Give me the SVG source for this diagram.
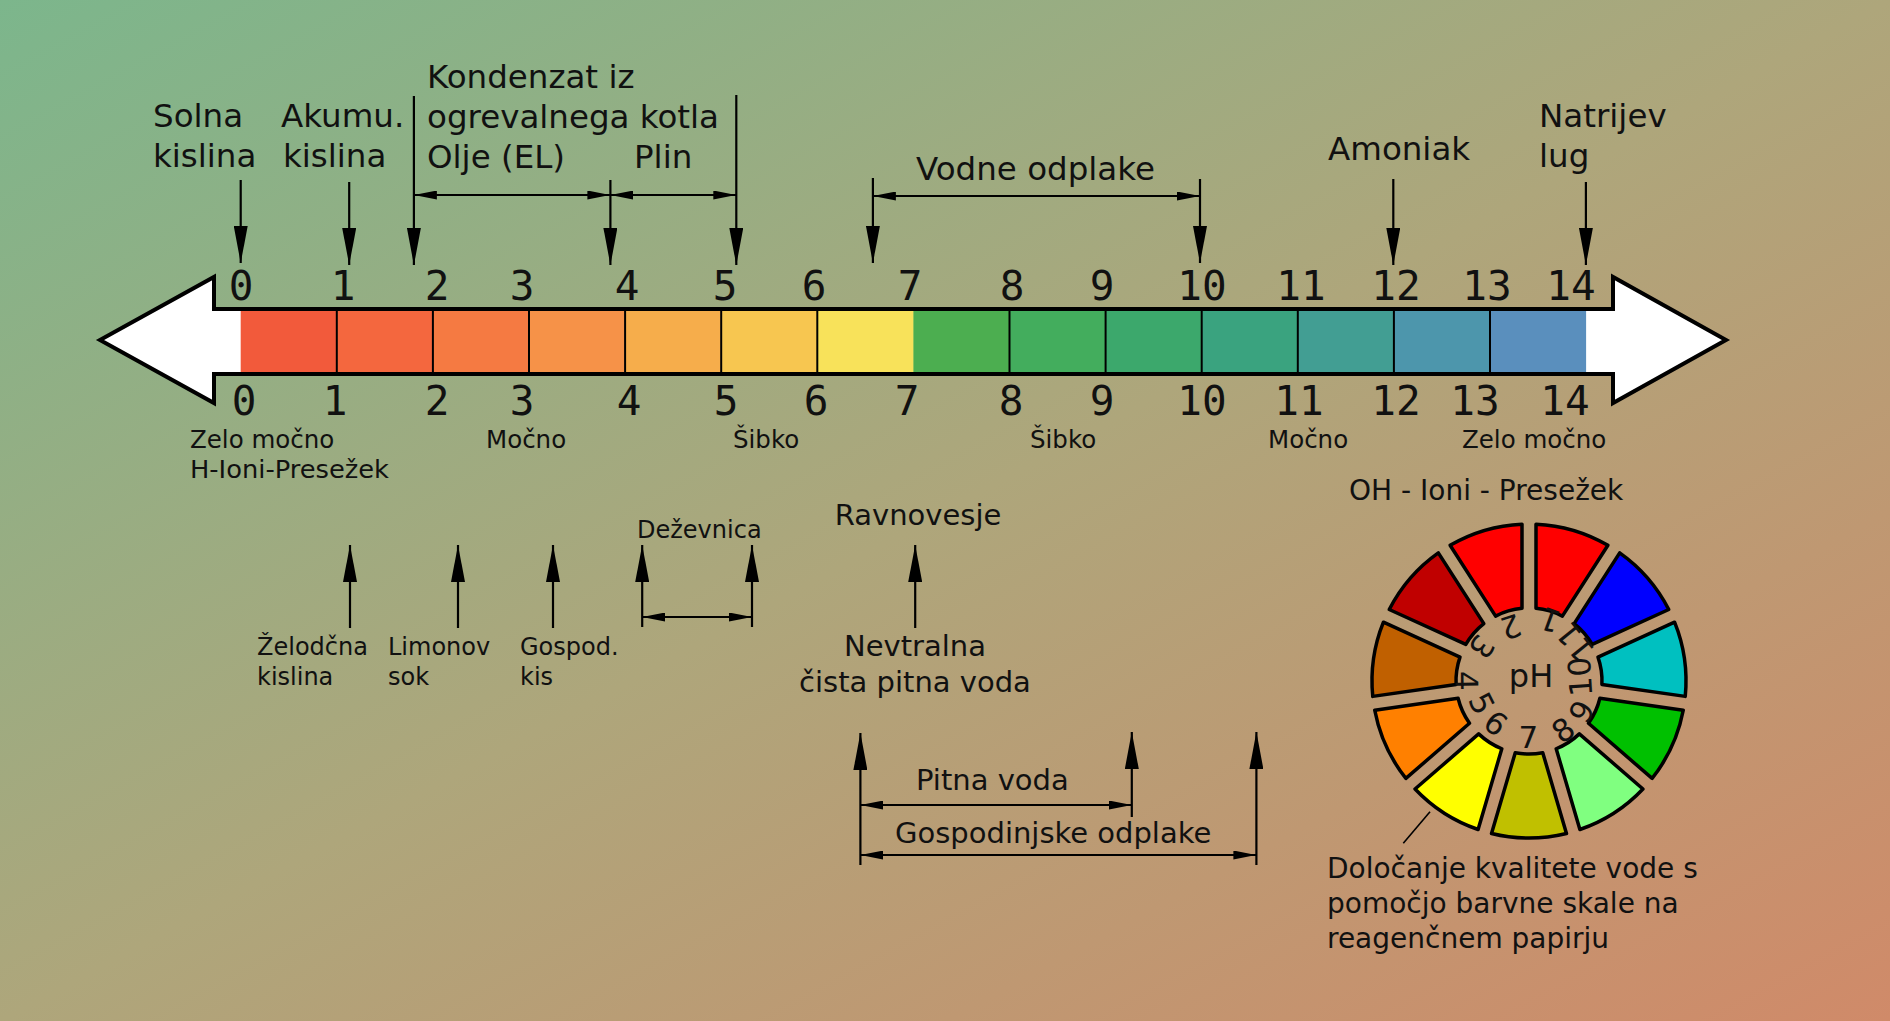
<svg xmlns="http://www.w3.org/2000/svg" width="1890" height="1021" viewBox="0 0 1890 1021">
<defs>
<linearGradient id="bg" x1="0" y1="0" x2="1" y2="1">
<stop offset="0" stop-color="#7cb68c"/>
<stop offset="0.5" stop-color="#aea67b"/>
<stop offset="1" stop-color="#d08a69"/>
</linearGradient>
<marker id="ah" viewBox="0 0 37 14" refX="37" refY="7" markerWidth="37" markerHeight="14" markerUnits="userSpaceOnUse" orient="auto-start-reverse"><path d="M0,0 L37,7 L0,14 Z" fill="#000"/></marker>
<marker id="as" viewBox="0 0 23 9" refX="23" refY="4.5" markerWidth="23" markerHeight="9" markerUnits="userSpaceOnUse" orient="auto-start-reverse"><path d="M0,0 L23,4.5 L0,9 Z" fill="#000"/></marker>
<style>
.t{font-family:"DejaVu Sans","Liberation Sans",sans-serif;fill:#111}
.l{font-size:32.5px}
.s{font-size:24.5px}
.m{font-size:29px}
.n{font-family:"DejaVu Sans Mono","Liberation Mono",monospace;font-size:41px;text-anchor:middle;fill:#111}
.v{stroke:#000;stroke-width:2.2;fill:none;marker-end:url(#ah)}
.h{stroke:#000;stroke-width:2.2;fill:none;marker-start:url(#as);marker-end:url(#as)}
.seg{stroke:#000;stroke-width:3.5;stroke-linejoin:round}
.div{stroke:#000;stroke-width:2}
.rd{font-family:"DejaVu Sans","Liberation Sans",sans-serif;font-size:31px;text-anchor:middle;fill:#111}
</style>
</defs>
<rect width="1890" height="1021" fill="url(#bg)"/>

<g id="scale">
<path d="M214,309 L214,277 L100,340 L214,403 L214,374 L1613,374 L1613,403 L1726,340 L1613,277 L1613,309 Z" fill="#fff" stroke="#000" stroke-width="4" stroke-linejoin="miter"/>
<rect x="240.7" y="311" width="96.6" height="61" fill="#f25a3b"/>
<rect x="336.8" y="311" width="96.6" height="61" fill="#f4673e"/>
<rect x="432.9" y="311" width="96.6" height="61" fill="#f57a42"/>
<rect x="529.0" y="311" width="96.6" height="61" fill="#f69248"/>
<rect x="625.1" y="311" width="96.6" height="61" fill="#f6ad4b"/>
<rect x="721.2" y="311" width="96.6" height="61" fill="#f7c650"/>
<rect x="817.3" y="311" width="96.6" height="61" fill="#f8e25a"/>
<rect x="913.4" y="311" width="96.6" height="61" fill="#4cae50"/>
<rect x="1009.5" y="311" width="96.6" height="61" fill="#43ad5d"/>
<rect x="1105.6" y="311" width="96.6" height="61" fill="#3ca86c"/>
<rect x="1201.7" y="311" width="96.6" height="61" fill="#3aa37f"/>
<rect x="1297.8" y="311" width="96.6" height="61" fill="#429e93"/>
<rect x="1393.9" y="311" width="96.6" height="61" fill="#4d96ac"/>
<rect x="1490.0" y="311" width="96.1" height="61" fill="#5a8fbd"/>
<g class="div">
<line x1="336.8" y1="311" x2="336.8" y2="372"/>
<line x1="432.9" y1="311" x2="432.9" y2="372"/>
<line x1="529.0" y1="311" x2="529.0" y2="372"/>
<line x1="625.1" y1="311" x2="625.1" y2="372"/>
<line x1="721.2" y1="311" x2="721.2" y2="372"/>
<line x1="817.3" y1="311" x2="817.3" y2="372"/>
<line x1="1009.5" y1="311" x2="1009.5" y2="372"/>
<line x1="1105.6" y1="311" x2="1105.6" y2="372"/>
<line x1="1201.7" y1="311" x2="1201.7" y2="372"/>
<line x1="1297.8" y1="311" x2="1297.8" y2="372"/>
<line x1="1393.9" y1="311" x2="1393.9" y2="372"/>
<line x1="1490.0" y1="311" x2="1490.0" y2="372"/>
</g>
</g>

<g id="numbers-top">
<text class="n" x="241" y="300">0</text>
<text class="n" x="343" y="300">1</text>
<text class="n" x="437" y="300">2</text>
<text class="n" x="522" y="300">3</text>
<text class="n" x="627" y="300">4</text>
<text class="n" x="725" y="300">5</text>
<text class="n" x="814" y="300">6</text>
<text class="n" x="910" y="300">7</text>
<text class="n" x="1012" y="300">8</text>
<text class="n" x="1102" y="300">9</text>
<text class="n" x="1202" y="300">10</text>
<text class="n" x="1301" y="300">11</text>
<text class="n" x="1396" y="300">12</text>
<text class="n" x="1487" y="300">13</text>
<text class="n" x="1571" y="300">14</text>
</g>
<g id="numbers-bottom">
<text class="n" x="244" y="415">0</text>
<text class="n" x="335" y="415">1</text>
<text class="n" x="437" y="415">2</text>
<text class="n" x="522" y="415">3</text>
<text class="n" x="629" y="415">4</text>
<text class="n" x="726" y="415">5</text>
<text class="n" x="816" y="415">6</text>
<text class="n" x="907" y="415">7</text>
<text class="n" x="1011" y="415">8</text>
<text class="n" x="1102" y="415">9</text>
<text class="n" x="1202" y="415">10</text>
<text class="n" x="1299" y="415">11</text>
<text class="n" x="1396" y="415">12</text>
<text class="n" x="1475" y="415">13</text>
<text class="n" x="1565" y="415">14</text>
</g>

<g id="solna"><text class="t l" x="153" y="127">Solna</text><text class="t l" x="153" y="167">kislina</text></g>
<g id="akumu"><text class="t l" x="281" y="127">Akumu.</text><text class="t l" x="283" y="167">kislina</text></g>
<g id="kondenzat"><text class="t l" x="427" y="88">Kondenzat iz</text><text class="t l" x="427" y="128">ogrevalnega kotla</text></g>
<g id="olje"><text class="t l" x="427" y="168">Olje (EL)</text></g>
<g id="plin"><text class="t l" x="634" y="168">Plin</text></g>
<g id="vodne"><text class="t l" x="916" y="180">Vodne odplake</text></g>
<g id="amoniak"><text class="t l" x="1328" y="160">Amoniak</text></g>
<g id="natrijev"><text class="t l" x="1539" y="127">Natrijev</text><text class="t l" x="1539" y="167">lug</text></g>

<g id="zelo-mocno-h"><text class="t s" x="190" y="448">Zelo močno</text><text class="t s" x="190" y="478" textLength="199" lengthAdjust="spacingAndGlyphs">H-Ioni-Presežek</text></g>
<g id="mocno-h"><text class="t s" x="486" y="448">Močno</text></g>
<g id="sibko-h"><text class="t s" x="733" y="448">Šibko</text></g>
<g id="sibko-oh"><text class="t s" x="1030" y="448">Šibko</text></g>
<g id="mocno-oh"><text class="t s" x="1268" y="448">Močno</text></g>
<g id="zelo-mocno-oh"><text class="t s" x="1462" y="448">Zelo močno</text></g>
<g id="oh-ioni"><text class="t" style="font-size:28px" x="1349" y="500">OH - Ioni - Presežek</text></g>

<g id="dezevnica"><text class="t" style="font-size:24px" x="637" y="538">Deževnica</text></g>
<g id="ravnovesje"><text class="t m" x="918" y="525" text-anchor="middle">Ravnovesje</text></g>
<g id="zelodcna"><text class="t" style="font-size:24px" x="257" y="655">Želodčna</text><text class="t" style="font-size:24px" x="257" y="685">kislina</text></g>
<g id="limonov"><text class="t" style="font-size:24px" x="388" y="655">Limonov</text><text class="t" style="font-size:24px" x="388" y="685">sok</text></g>
<g id="gospod"><text class="t" style="font-size:24px" x="520" y="655">Gospod.</text><text class="t" style="font-size:24px" x="520" y="685">kis</text></g>
<g id="nevtralna"><text class="t m" x="915" y="656" text-anchor="middle">Nevtralna</text><text class="t m" x="915" y="692" text-anchor="middle">čista pitna voda</text></g>
<g id="pitna"><text class="t m" x="916" y="790">Pitna voda</text></g>
<g id="gospodinjske"><text class="t m" x="895" y="843">Gospodinjske odplake</text></g>
<g id="dolocanje"><text class="t" style="font-size:28px" x="1327" y="878">Določanje kvalitete vode s</text><text class="t" style="font-size:28px" x="1327" y="913">pomočjo barvne skale na</text><text class="t" style="font-size:28px" x="1327" y="948">reagenčnem papirju</text></g>

<g id="wheel">
<path class="seg" fill="#ff0000" d="M1536,524.16 A157,157 0 0 1 1607.91,545.28 L1562.39,616.09 A73,73 0 0 0 1536,608.34 Z"/>
<path class="seg" fill="#0000ff" d="M1619.68,552.84 A157,157 0 0 1 1668.76,609.48 L1592.19,644.45 A73,73 0 0 0 1574.17,623.66 Z"/>
<path class="seg" fill="#00c0c0" d="M1674.58,622.21 A157,157 0 0 1 1685.24,696.39 L1601.92,684.41 A73,73 0 0 0 1598.00,657.18 Z"/>
<path class="seg" fill="#00c000" d="M1683.25,710.25 A157,157 0 0 1 1652.12,778.42 L1588.50,723.29 A73,73 0 0 0 1599.92,698.27 Z"/>
<path class="seg" fill="#80ff80" d="M1642.95,789.00 A157,157 0 0 1 1579.90,829.51 L1556.19,748.75 A73,73 0 0 0 1579.33,733.87 Z"/>
<path class="seg" fill="#c0c000" d="M1566.47,833.46 A157,157 0 0 1 1491.53,833.46 L1515.25,752.69 A73,73 0 0 0 1542.75,752.69 Z"/>
<path class="seg" fill="#ffff00" d="M1478.10,829.51 A157,157 0 0 1 1415.05,789.00 L1478.67,733.87 A73,73 0 0 0 1501.81,748.75 Z"/>
<path class="seg" fill="#ff8000" d="M1405.88,778.42 A157,157 0 0 1 1374.75,710.25 L1458.08,698.27 A73,73 0 0 0 1469.50,723.29 Z"/>
<path class="seg" fill="#c06000" d="M1372.76,696.39 A157,157 0 0 1 1383.42,622.21 L1460.00,657.18 A73,73 0 0 0 1456.08,684.41 Z"/>
<path class="seg" fill="#c00000" d="M1389.24,609.48 A157,157 0 0 1 1438.32,552.84 L1483.83,623.66 A73,73 0 0 0 1465.81,644.45 Z"/>
<path class="seg" fill="#ff0000" d="M1450.10,545.28 A157,157 0 0 1 1522,524.16 L1522,608.34 A73,73 0 0 0 1495.61,616.09 Z"/>
<text class="rd" x="1531" y="687" style="font-size:32px">pH</text>
<text class="rd" transform="translate(1550,620) rotate(-160)" y="11">1</text>
<text class="rd" transform="translate(1510.7,626.7) rotate(162)" y="11">2</text>
<text class="rd" transform="translate(1481.7,646.7) rotate(125.7)" y="11">3</text>
<text class="rd" transform="translate(1466.7,680.7) rotate(89.4)" y="11">4</text>
<text class="rd" transform="translate(1481.7,703.3) rotate(63.3)" y="11">5</text>
<text class="rd" transform="translate(1495.7,723.3) rotate(36.7)" y="11">6</text>
<text class="rd" transform="translate(1528.3,737.3)" y="11">7</text>
<text class="rd" transform="translate(1563.3,730) rotate(-35.2)" y="11">8</text>
<text class="rd" transform="translate(1581.7,711.7) rotate(-59.5)" y="11">9</text>
<text class="rd" transform="translate(1580,676.7) rotate(-93.6)" y="11">10</text>
<text class="rd" transform="translate(1575,641.7) rotate(-129.2)" y="11">11</text>
</g>

<g id="connectors">
<line class="v" x1="240.7" y1="180" x2="240.7" y2="263"/>
<line class="v" x1="349.2" y1="182" x2="349.2" y2="265"/>
<line class="v" x1="413.9" y1="96" x2="413.9" y2="265"/>
<line class="v" x1="610.4" y1="180" x2="610.4" y2="265"/>
<line class="v" x1="736.3" y1="95" x2="736.3" y2="265"/>
<line class="h" x1="413.9" y1="195" x2="610.4" y2="195"/>
<line class="h" x1="610.4" y1="195" x2="736.3" y2="195"/>
<line class="v" x1="872.9" y1="178" x2="872.9" y2="263"/>
<line class="v" x1="1200" y1="179" x2="1200" y2="263"/>
<line class="h" x1="872.9" y1="196" x2="1200" y2="196"/>
<line class="v" x1="1393.3" y1="179" x2="1393.3" y2="265"/>
<line class="v" x1="1585.9" y1="182" x2="1585.9" y2="265"/>

<line class="v" x1="350" y1="628" x2="350" y2="545"/>
<line class="v" x1="458" y1="628" x2="458" y2="545"/>
<line class="v" x1="553" y1="628" x2="553" y2="545"/>
<line class="v" x1="642.2" y1="627" x2="642.2" y2="545"/>
<line class="v" x1="752" y1="627" x2="752" y2="545"/>
<line class="h" x1="642.2" y1="617" x2="752" y2="617"/>
<line class="v" x1="915.2" y1="628" x2="915.2" y2="545"/>

<line class="v" x1="860.4" y1="865" x2="860.4" y2="733"/>
<line class="v" x1="1131.8" y1="817" x2="1131.8" y2="732"/>
<line class="v" x1="1256.4" y1="865" x2="1256.4" y2="732"/>
<line class="h" x1="860.4" y1="805" x2="1131.8" y2="805"/>
<line class="h" x1="860.4" y1="855" x2="1256.4" y2="855"/>

<line x1="1430" y1="811.7" x2="1403.3" y2="843.3" stroke="#000" stroke-width="1.6"/>
</g>
</svg>
